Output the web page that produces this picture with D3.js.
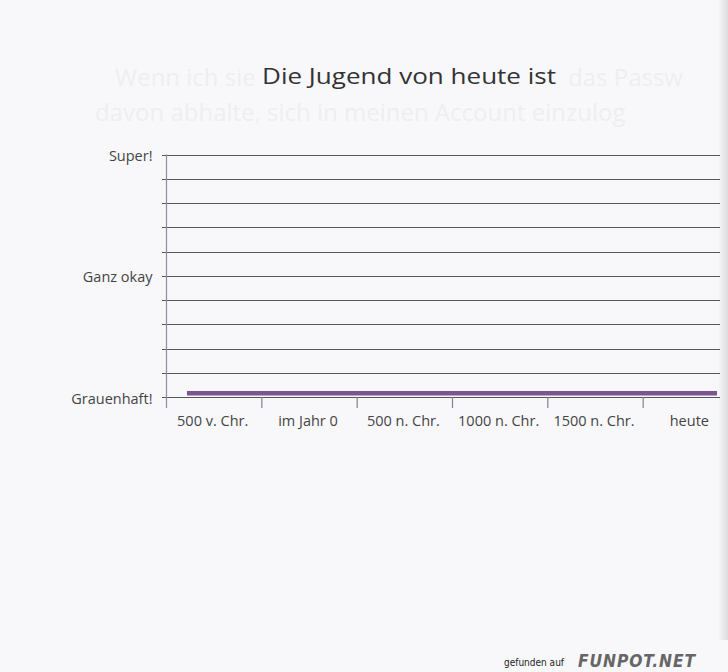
<!DOCTYPE html>
<html>
<head>
<meta charset="utf-8">
<script src="https://cdn.jsdelivr.net/npm/d3@7"></script>
<style>
  html, body { margin: 0; padding: 0; background: #f7f7f9; }
  svg { display: block; }
</style>
</head>
<body>
<svg id="chart" width="728" height="672"></svg>
<script>
// ---- data ----
const title = "Die Jugend von heute ist";
const categories = ["500 v. Chr.", "im Jahr 0", "500 n. Chr.", "1000 n. Chr.", "1500 n. Chr.", "heute"];
const values = [0.15, 0.15, 0.15, 0.15, 0.15, 0.15];
const yTickValues = [0, 1, 2, 3, 4, 5, 6, 7, 8, 9, 10];
const yTickLabels = { 0: "Grauenhaft!", 5: "Ganz okay", 10: "Super!" };
const bleedFragments = [
  { t: "Wenn ich sie", x: 115, y: 86 },
  { t: "das Passw", x: 568, y: 86 },
  { t: "davon abhalte, sich in meinen Account einzulog", x: 95, y: 121 }
];

// ---- layout ----
const W = 728, H = 672;
const axisX = 166, plotRight = 720;
const svg = d3.select("#chart");
const FONT = "Open Sans, sans-serif";

// paper background
svg.append("rect").attr("width", W).attr("height", H).attr("fill", "#f8f8fa");
const grad = svg.append("defs").append("linearGradient").attr("id", "edge").attr("x1", "0").attr("x2", "1");
grad.append("stop").attr("offset", "0").attr("stop-color", "#f8f8fa");
grad.append("stop").attr("offset", "1").attr("stop-color", "#dcdce0");
svg.append("rect").attr("x", 718).attr("y", 0).attr("width", 10).attr("height", 640).attr("fill", "url(#edge)");

// very faint bleed-through text from the other side of the page
svg.append("g").selectAll("text").data(bleedFragments).join("text")
  .attr("x", d => d.x).attr("y", d => d.y).text(d => d.t)
  .attr("font-family", FONT).attr("font-size", 24).attr("fill", "#eeeef2");

// title
svg.append("text")
  .attr("x", 409).attr("y", 84)
  .attr("text-anchor", "middle")
  .attr("font-family", FONT)
  .attr("font-size", 22)
  .attr("fill", "#333")
  .attr("textLength", 294)
  .attr("lengthAdjust", "spacingAndGlyphs")
  .text(title);

// scales
const y = d3.scaleLinear().domain([0, 10]).range([397, 154.5]);
const x = d3.scaleBand().domain(categories).range([axisX, 738]).paddingInner(0).paddingOuter(0);

// horizontal gridlines
svg.append("g").selectAll("line").data(yTickValues).join("line")
  .attr("x1", axisX - 4).attr("x2", plotRight)
  .attr("y1", d => Math.round(y(d)) + 0.5).attr("y2", d => Math.round(y(d)) + 0.5)
  .attr("stroke", "#55555c").attr("stroke-width", 1);

// y axis labels
const yAxis = d3.axisLeft(y).tickValues([0, 5, 10]).tickSize(0).tickPadding(14)
  .tickFormat(d => yTickLabels[d]);
const gy = svg.append("g").attr("transform", `translate(${axisX + 0.5},0)`).call(yAxis);
gy.select(".domain").remove();
gy.selectAll("text").attr("font-family", FONT).attr("font-size", 14.5).attr("fill", "#444")
  .attr("dy", "0.42em");
svg.append("line").attr("x1", axisX + 0.5).attr("x2", axisX + 0.5).attr("y1", y(10)).attr("y2", 408)
  .attr("stroke", "#8c8ca6").attr("stroke-width", 1.2);

// x axis ticks at band boundaries
svg.append("g").selectAll("line").data(categories.slice(1)).join("line")
  .attr("x1", d => x(d) + 0.5).attr("x2", d => x(d) + 0.5)
  .attr("y1", y(0)).attr("y2", 408)
  .attr("stroke", "#8a7a96").attr("stroke-width", 1.2);

// x labels centered in bands
svg.append("g").selectAll("text").data(categories).join("text")
  .attr("x", d => x(d) + x.bandwidth() / 2 - 1)
  .attr("y", 426)
  .attr("text-anchor", "middle")
  .attr("font-family", FONT)
  .attr("font-size", 14.5)
  .attr("fill", "#444")
  .text(d => d);

// data line (extends slightly beyond first/last band centers)
const overhang = x.step() * 0.28;
const pts = categories.map((c, i) => [x(c) + x.bandwidth() / 2, y(values[i])]);
pts[0] = [pts[0][0] - overhang, pts[0][1]];
pts[pts.length - 1] = [pts[pts.length - 1][0] + overhang, pts[pts.length - 1][1]];
svg.append("path")
  .attr("d", d3.line()(pts))
  .attr("fill", "none")
  .attr("stroke", "#7a5590")
  .attr("stroke-width", 4.5);

// watermark
svg.append("text").attr("x", 564).attr("y", 666).attr("text-anchor", "end")
  .attr("font-family", "DejaVu Sans Condensed, sans-serif").attr("font-size", 10).attr("fill", "#222")
  .text("gefunden auf");
svg.append("text").attr("x", 578).attr("y", 667)
  .attr("font-family", "DejaVu Sans, sans-serif").attr("font-size", 17).attr("font-weight", "bold")
  .attr("font-style", "italic").attr("fill", "#666").attr("letter-spacing", 1)
  .attr("textLength", 118).attr("lengthAdjust", "spacingAndGlyphs")
  .text("FUNPOT.NET");
</script>
</body>
</html>
